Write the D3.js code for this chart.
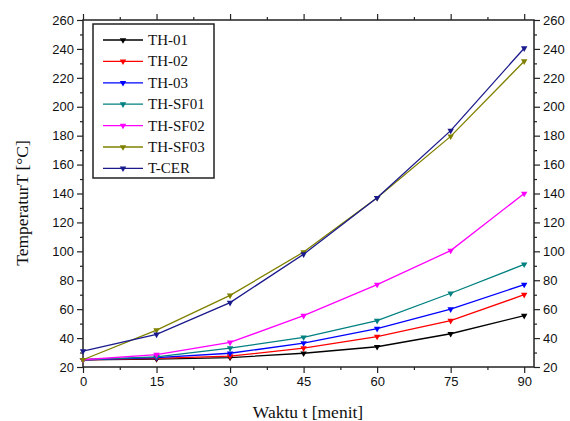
<!DOCTYPE html>
<html><head><meta charset="utf-8">
<script src="https://cdn.jsdelivr.net/npm/d3@7"></script>
<style>body{margin:0;background:#fff}svg{display:block}</style>
</head><body><svg id="c" width="570" height="421"></svg>
<script>
const times = [0, 15, 30, 45, 60, 75, 90];
const seriesNames = ["TH-01", "TH-02", "TH-03", "TH-SF01", "TH-SF02", "TH-SF03", "T-CER"];
const seriesColors = ["#000000", "#ff0000", "#0000ff", "#008080", "#ff00ff", "#808000", "#1a1a8c"];
const th01 = [25, 25.5, 26.5, 29.5, 34, 43, 55.5];
const th02 = [25, 26, 27.5, 33, 41, 52, 70];
const th03 = [25, 26.5, 29.5, 36.5, 46.5, 60, 77];
const thsf01 = [25, 27, 33, 40.5, 52, 71, 91];
const thsf02 = [25, 28.5, 37, 55.5, 77, 100.5, 140];
const thsf03 = [25, 45.5, 69.5, 99.5, 137, 179.5, 231.5];
const tcer = [31, 42.5, 64.5, 98, 137, 183.5, 240.5];
const seriesValues = [th01, th02, th03, thsf01, thsf02, thsf03, tcer];
const xTicks = [0, 15, 30, 45, 60, 75, 90];
const yTicks = [20, 40, 60, 80, 100, 120, 140, 160, 180, 200, 220, 240, 260];

const svg = d3.select("#c");
const L = 83, R = 534, T = 20, B = 367;
const x = d3.scaleLinear().domain([0, 92]).range([L, R]);
const y = d3.scaleLinear().domain([20, 260]).range([B, T]);
const tickFont = "'Liberation Sans', Arial, sans-serif";
const serif = "'Liberation Serif', 'Times New Roman', serif";

const xMinor = d3.range(7.5, 92, 15);
const yMinor = d3.range(30, 260, 20);

function styleAxis(g, showLabels) {
  g.select(".domain").remove();
  g.selectAll("line").attr("stroke", "#222").attr("stroke-width", 1.2);
  g.selectAll("text").style("font-family", tickFont).style("font-size", "13px").attr("fill", "#111");
  if (!showLabels) g.selectAll("text").remove();
}

svg.append("g").attr("transform", `translate(0,${B})`)
  .call(d3.axisBottom(x).tickValues(xTicks).tickSize(6).tickPadding(4).tickFormat(d3.format("d")))
  .call(g => styleAxis(g, true));
svg.append("g").attr("transform", `translate(0,${B})`)
  .call(d3.axisBottom(x).tickValues(xMinor).tickSize(3).tickFormat(""))
  .call(g => styleAxis(g, false));
svg.append("g").attr("transform", `translate(0,${T})`)
  .call(d3.axisTop(x).tickValues(xTicks).tickSize(6).tickFormat(""))
  .call(g => styleAxis(g, false));
svg.append("g").attr("transform", `translate(0,${T})`)
  .call(d3.axisTop(x).tickValues(xMinor).tickSize(3).tickFormat(""))
  .call(g => styleAxis(g, false));
svg.append("g").attr("transform", `translate(${L},0)`)
  .call(d3.axisLeft(y).tickValues(yTicks).tickSize(6).tickPadding(3).tickFormat(d3.format("d")))
  .call(g => styleAxis(g, true));
svg.append("g").attr("transform", `translate(${L},0)`)
  .call(d3.axisLeft(y).tickValues(yMinor).tickSize(3).tickFormat(""))
  .call(g => styleAxis(g, false));
svg.append("g").attr("transform", `translate(${R},0)`)
  .call(d3.axisRight(y).tickValues(yTicks).tickSize(6).tickPadding(3).tickFormat(d3.format("d")))
  .call(g => styleAxis(g, true));
svg.append("g").attr("transform", `translate(${R},0)`)
  .call(d3.axisRight(y).tickValues(yMinor).tickSize(3).tickFormat(""))
  .call(g => styleAxis(g, false));

svg.append("rect").attr("x", L).attr("y", T).attr("width", R - L).attr("height", B - T)
  .attr("fill", "none").attr("stroke", "#222").attr("stroke-width", 1.5);

const line = d3.line().x((d, i) => x(times[i])).y(d => y(d));
const tri = d3.symbol().type(d3.symbolTriangle).size(18);
seriesValues.forEach((vals, k) => {
  const g = svg.append("g");
  g.append("path").datum(vals).attr("d", line).attr("fill", "none")
    .attr("stroke", seriesColors[k]).attr("stroke-width", 1.3);
  g.selectAll("path.m").data(vals).enter().append("path").attr("class", "m")
    .attr("d", tri)
    .attr("transform", (d, i) => `translate(${x(times[i])},${y(d)}) rotate(180)`)
    .attr("fill", seriesColors[k]);
});

const lg = svg.append("g");
lg.append("rect").attr("x", 93).attr("y", 24).attr("width", 121).attr("height", 154)
  .attr("fill", "#fff").attr("stroke", "#222").attr("stroke-width", 1.5);
seriesNames.forEach((n, k) => {
  const yy = 40 + k * 21.4;
  lg.append("line").attr("x1", 103).attr("x2", 143).attr("y1", yy).attr("y2", yy)
    .attr("stroke", seriesColors[k]).attr("stroke-width", 1.3);
  lg.append("path").attr("d", tri).attr("transform", `translate(123,${yy}) rotate(180)`)
    .attr("fill", seriesColors[k]);
  lg.append("text").attr("x", 148).attr("y", yy + 5).text(n)
    .style("font-family", serif).style("font-size", "15px").attr("fill", "#111");
});

svg.append("text").attr("x", 308).attr("y", 418).attr("text-anchor", "middle")
  .style("font-family", serif).style("font-size", "17.5px").attr("fill", "#111")
  .text("Waktu t [menit]");
svg.append("text").attr("transform", `translate(28,203) rotate(-90)`)
  .attr("text-anchor", "middle")
  .style("font-family", serif).style("font-size", "17.5px").attr("fill", "#111")
  .text("TemperaturT [°C]");
</script></body></html>
